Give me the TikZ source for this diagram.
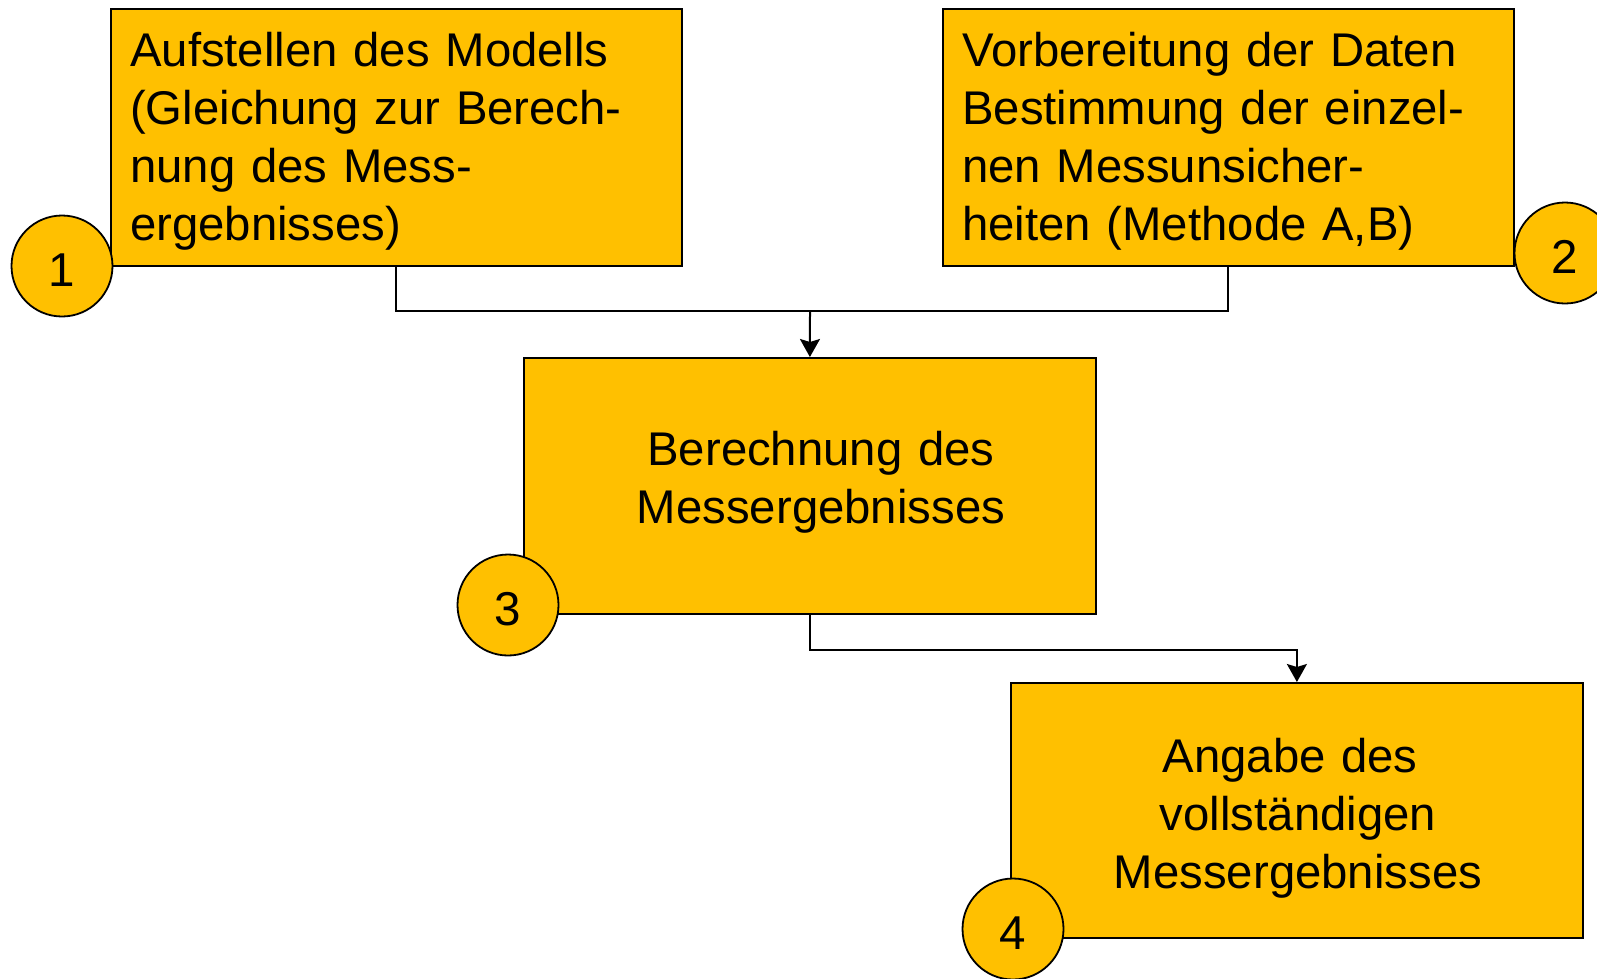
\documentclass[tikz,border=0pt]{standalone}
\usepackage{fontspec}
\setmainfont{Liberation Sans}
\usetikzlibrary{arrows.meta}
\definecolor{gold}{RGB}{255,192,0}
\tikzset{
  x=1pt, y=-1pt,
  box/.style={draw=black, line width=1.8pt, fill=gold, rectangle, inner sep=0pt, anchor=north west},
  num/.style={draw=black, line width=1.8pt, fill=gold, circle, minimum size=101pt, inner sep=0pt, text height=40pt, text depth=0pt, font=\fontsize{47.5}{58}\selectfont},
  txt/.style={inner sep=0pt, text width=600pt, font=\fontsize{47.3}{58}\selectfont},
  conn/.style={line width=2pt},
  arr/.style={conn, -{Stealth[length=18pt,width=20pt,inset=3pt]}}
}
\begin{document}
\begin{tikzpicture}
\useasboundingbox (0,0) rectangle (1597,978);
\clip (0,0) rectangle (1597,978);
% boxes
\node[box, minimum width=571pt, minimum height=257pt] (b1) at (110,8) {};
\node[box, minimum width=571pt, minimum height=257pt] (b2) at (942,8) {};
\node[box, minimum width=572pt, minimum height=256pt] (b3) at (523,357) {};
\node[box, minimum width=572pt, minimum height=255pt] (b4) at (1010,682) {};
% texts
\node[txt, align=left, anchor=base west] (t1) at (130,66) {Aufstellen des Modells\\(Gleichung zur Berech-\\nung des Mess-\\ergebnisses)};
\node[txt, align=left, anchor=base west] (t2) at (962,66) {Vorbereitung der Daten\\Bestimmung der einzel-\\nen Messunsicher-\\heiten (Methode A,B)};
\node[txt, align=center, anchor=base] (t3) at (821,465) {Berechnung des\\Messergebnisses};
\node[txt, align=center, anchor=base] (t4) at (1298,772) {Angabe des\hphantom{\ }\\vollständigen\\Messergebnisses};
% connectors
\coordinate (j) at (810,311);
\draw[conn] (b1.south) |- (j) -| (b2.south);
\draw[arr] (j) -- (b3.north);
\draw[arr] (b3.south) -- ++(0,35) -| (b4.north);
% numbers
\node[num] (c1) at (62,266) {1};
\node[num] (c2) at (1565,253) {2};
\node[num] (c3) at (508,605) {3};
\node[num] (c4) at (1013,929) {4};
\end{tikzpicture}
\end{document}
